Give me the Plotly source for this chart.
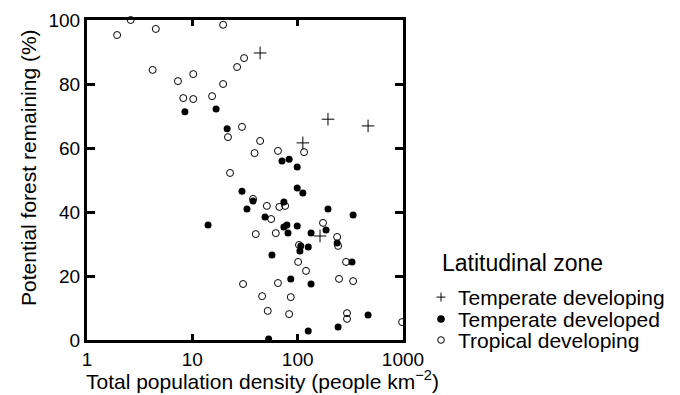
import plotly.graph_objects as go

# ---- data ----
temp_dev_x = [44, 112, 194, 466, 163]
temp_dev_y = [89.7, 61.6, 69.0, 66.9, 32.5]

temp_dvd_x = [8.5, 16.8, 21.4, 29.6, 33, 14.1, 71, 83, 99, 37.7, 99, 112, 74, 194, 336,
              49, 74, 79, 99, 81, 134, 186, 107, 126, 105, 57, 237, 328, 86, 134, 466,
              126, 242, 53]
temp_dvd_y = [71.3, 72.2, 66.0, 46.5, 40.9, 35.9, 55.9, 56.5, 54.1, 43.4, 47.5, 45.9, 43.1,
              40.9, 39.1, 38.4, 35.3, 35.9, 35.6, 33.4, 33.4, 34.4, 29.4, 29.1, 27.8, 26.6,
              30.3, 24.4, 19.1, 17.5, 7.8, 2.8, 4.1, 0.3]

trop_dev_x = [2.6, 1.93, 4.5, 19.6, 31, 26.6, 4.2, 7.3, 10.2, 19.6, 8.2, 10.2, 15.4, 29.6,
              21.8, 22.8, 44, 39, 65, 115, 37.7, 51, 67, 76, 56, 174, 40, 62, 237, 103, 242,
              288, 101, 120, 30.3, 65, 247, 336, 46, 86, 52, 83, 294, 294, 980]
trop_dev_y = [100, 95.3, 97.2, 98.5, 88.1, 85.3, 84.4, 80.9, 83.1, 80.0, 75.6, 75.3, 76.2,
              66.6, 63.4, 52.2, 62.2, 58.4, 59.1, 58.7, 44.1, 41.9, 41.6, 41.9, 37.8, 36.6,
              33.1, 33.4, 32.2, 29.7, 29.4, 24.4, 24.4, 21.6, 17.5, 17.8, 19.1, 18.4, 13.7,
              13.4, 9.1, 8.1, 8.4, 6.6, 5.6]

x_ticks = [1, 10, 100, 1000]
x_ticklabels = ["1", "10", "100", "1000"]
x_minor_ticks = [2, 3, 4, 5, 6, 7, 8, 9, 20, 30, 40, 50, 60, 70, 80, 90,
                 200, 300, 400, 500, 600, 700, 800, 900]
y_ticks = [0, 20, 40, 60, 80, 100]

x_title = "Total population density (people km<sup>−2</sup>)"
y_title = "Potential forest remaining (%)"
legend_title = "Latitudinal zone"
legend_names = ["Temperate developing", "Temperate developed", "Tropical developing"]

FONT = "Liberation Sans, Arial, sans-serif"

fig = go.Figure()
fig.add_trace(go.Scatter(
    x=temp_dev_x, y=temp_dev_y, mode="markers", name=legend_names[0],
    marker=dict(symbol="cross-thin", size=9, color="black",
                line=dict(color="black", width=1)),
    cliponaxis=False, showlegend=False))
fig.add_trace(go.Scatter(
    x=temp_dvd_x, y=temp_dvd_y, mode="markers", name=legend_names[1],
    marker=dict(symbol="circle", size=7, color="black",
                line=dict(color="black", width=0)),
    cliponaxis=False, showlegend=False))
fig.add_trace(go.Scatter(
    x=trop_dev_x, y=trop_dev_y, mode="markers", name=legend_names[2],
    marker=dict(symbol="circle-open", size=7, color="black",
                line=dict(color="black", width=1)),
    cliponaxis=False, showlegend=False))

# ---- legend drawn as text + pixel-sized symbol shapes ----
SYM_X = 1.1203
TEXT_X = 1.168
row_y = [0.134, 0.0656, 0.0]

ann = [dict(text=legend_title, x=1.117, xref="paper", xanchor="left",
            y=0.2406, yref="paper", yanchor="middle", showarrow=False,
            font=dict(size=23, family=FONT))]
for name, yy in zip(legend_names, row_y):
    ann.append(dict(text=name, x=TEXT_X, xref="paper", xanchor="left",
                    y=yy, yref="paper", yanchor="middle", showarrow=False,
                    font=dict(size=21, family=FONT)))
# axis titles as text (reference titles are not centred on the plot)
ann.append(dict(text=x_title, x=-0.01, xref="paper", xanchor="left",
                y=-0.125, yref="paper", yanchor="middle", showarrow=False,
                font=dict(size=21, family=FONT)))
ann.append(dict(text=y_title, x=-0.1867, xref="paper", xanchor="center",
                y=0.5375, yref="paper", yanchor="middle", showarrow=False,
                textangle=-90, font=dict(size=21, family=FONT)))

def pix_shape(kind, yy, x0, x1, y0, y1, **kw):
    d = dict(type=kind, xref="paper", yref="paper",
             xsizemode="pixel", ysizemode="pixel",
             xanchor=SYM_X, yanchor=yy, x0=x0, x1=x1, y0=y0, y1=y1)
    d.update(kw)
    return d

shapes = [
    # plus
    pix_shape("line", row_y[0], -4.5, 4.5, 0, 0, line=dict(color="black", width=1)),
    pix_shape("line", row_y[0], 0, 0, -4.5, 4.5, line=dict(color="black", width=1)),
    # filled circle
    pix_shape("circle", row_y[1], -3.8, 3.8, -3.8, 3.8, fillcolor="black",
              line=dict(color="black", width=0)),
    # open circle
    pix_shape("circle", row_y[2], -3.3, 3.3, -3.3, 3.3, fillcolor="rgba(0,0,0,0)",
              line=dict(color="black", width=1)),
]

fig.update_layout(
    width=680, height=395,
    margin=dict(l=87, r=277, t=20, b=55),
    paper_bgcolor="white", plot_bgcolor="white",
    font=dict(family=FONT, size=19, color="black"),
    showlegend=False,
    annotations=ann,
    shapes=shapes,
    xaxis=dict(
        type="log", range=[0, 3],
        tickmode="array", tickvals=x_ticks, ticktext=x_ticklabels,
        showline=True, linewidth=3, linecolor="black", mirror="allticks",
        ticks="inside", ticklen=6, tickwidth=3, tickcolor="black",
        showgrid=False, zeroline=False, automargin=False,
        tickfont=dict(size=19), layer="above traces",
    ),
    xaxis2=dict(
        type="log", range=[0, 3], overlaying="x", anchor="y", side="bottom",
        tickmode="array", tickvals=x_minor_ticks, showticklabels=False,
        showline=False, mirror="allticks",
        ticks="inside", ticklen=3, tickwidth=2, tickcolor="black",
        showgrid=False, zeroline=False, automargin=False,
    ),
    yaxis=dict(
        range=[0, 100], tickmode="array", tickvals=y_ticks,
        showline=True, linewidth=3, linecolor="black", mirror="allticks",
        ticks="inside", ticklen=8, tickwidth=3, tickcolor="black",
        showgrid=False, zeroline=False, automargin=False,
        tickfont=dict(size=19), layer="above traces",
    ),
)

fig.write_html("out.html")
